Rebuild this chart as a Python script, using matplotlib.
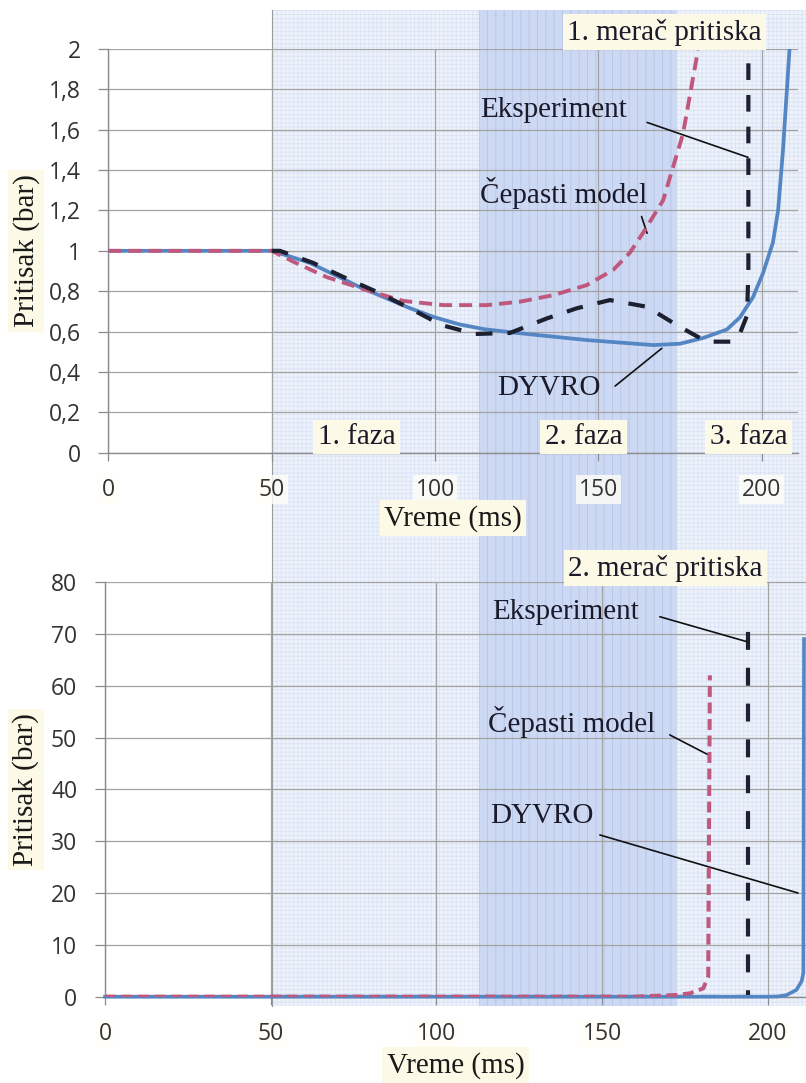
import matplotlib
matplotlib.use("Agg")
import matplotlib.pyplot as plt
import matplotlib.transforms as mtransforms
from matplotlib.patches import Rectangle
from matplotlib.lines import Line2D

# --- 1. merac pritiska (gornji grafik), vreme u ms, pritisak u bar ---
t_dyvro_1 = [0, 50, 55, 61.7, 77, 92.3, 100, 107.6, 115, 122.9, 130, 146.4, 166.8, 175, 182,
             189.3, 193.3, 197.3, 200.4, 203.4, 205, 206.5, 207.5, 208.5]
p_dyvro_1 = [1.0, 1.0, 0.975, 0.94, 0.82, 0.716, 0.67, 0.635, 0.612, 0.597, 0.585, 0.558,
             0.533, 0.54, 0.568, 0.61, 0.67, 0.77, 0.89, 1.04, 1.2, 1.5, 1.75, 2.0]

t_cep_1 = [0, 50, 56.6, 66.8, 80, 90.2, 102.4, 115.8, 126, 136.1, 146.4, 154.5, 159.6,
           163.7, 169.8, 175.9, 180.1, 180.6]
p_cep_1 = [1.0, 1.0, 0.946, 0.87, 0.80, 0.752, 0.731, 0.731, 0.748, 0.78, 0.83, 0.905, 0.99,
           1.09, 1.25, 1.58, 1.96, 2.02]

t_eks_1 = [50, 52.5, 62.7, 72.9, 83.1, 92.3, 102, 112.2, 122.9, 134.2, 143.3, 153.5, 164.8,
           174, 183.1, 191.2, 193.3, 195.5, 195.9, 195.9]
p_eks_1 = [1.0, 1.0, 0.94, 0.863, 0.79, 0.715, 0.632, 0.588, 0.593, 0.665, 0.715, 0.756, 0.723,
           0.632, 0.55, 0.55, 0.59, 0.68, 0.9, 2.1]

# --- 2. merac pritiska (donji grafik) ---
t_dyvro_2 = [0, 200, 203, 205.6, 208.6, 210.2, 210.7, 210.9]
p_dyvro_2 = [0, 0, 0.05, 0.3, 1.3, 3.0, 4.6, 69]

t_cep_2 = [0, 160, 165, 172.4, 176.5, 180.5, 182, 182.5]
p_cep_2 = [0, 0, 0.15, 0.33, 0.65, 1.6, 3.9, 62]

t_eks_2 = [50, 194, 194]
p_eks_2 = [0, 0, 73]

# faze procesa (ms)
faza_2_od, faza_2_do = 113.4, 174.2
faza_1_od = 50

x_ticks = [0, 50, 100, 150, 200]
y_ticks_1 = [0, 0.2, 0.4, 0.6, 0.8, 1.0, 1.2, 1.4, 1.6, 1.8, 2.0]
y_labels_1 = ["0", "0,2", "0,4", "0,6", "0,8", "1", "1,2", "1,4", "1,6", "1,8", "2"]
y_ticks_2 = [0, 10, 20, 30, 40, 50, 60, 70, 80]

plt.rcParams["hatch.linewidth"] = 0.6

c_dyvro = "#5486c4"
c_cep = "#c0587e"
c_eks = "#1c2030"
krem = "#fcfae6"
serif = ["Liberation Serif", "DejaVu Serif"]
sans = ["Open Sans", "DejaVu Sans"]

fig = plt.figure(figsize=(8.06, 10.83), dpi=100)
ax1 = fig.add_axes([0.1345, 0.582, 0.8556, 0.3728])
ax2 = fig.add_axes([0.1303, 0.0797, 0.8697, 0.3829])

# pozadina faza preko oba grafika
trans = mtransforms.blended_transform_factory(ax1.transData, fig.transFigure)
svetla = Rectangle((faza_1_od, 0.071), 175, 0.92, transform=trans, facecolor="#edf2fb",
                   edgecolor="#dbe3f4", hatch="++++", lw=0, zorder=-3)
tamna = Rectangle((faza_2_od, 0.071), faza_2_do - faza_2_od, 0.92, transform=trans,
                  facecolor="#cdd9f3", edgecolor="#b4c5ea", hatch="||", lw=0, zorder=-2)
ivica = Line2D([faza_1_od, faza_1_od], [0.071, 0.991], transform=trans, color="#9a9a9a",
               lw=0.8, zorder=-1)
fig.add_artist(svetla)
fig.add_artist(tamna)
fig.add_artist(ivica)


def osnova(ax, xmax, yticks, ymax):
    ax.set_facecolor("none")
    ax.set_xlim(0, xmax)
    ax.set_ylim(0, ymax)
    ax.set_xticks(x_ticks)
    ax.set_yticks(yticks)
    for s in ["top", "right"]:
        ax.spines[s].set_visible(False)
    for s in ["left", "bottom"]:
        ax.spines[s].set_color("#8c8c8c")
        ax.spines[s].set_linewidth(1.0)
    ax.grid(True, color="#a3a3a3", lw=0.9)
    ax.set_axisbelow(True)
    ax.tick_params(axis="y", length=7, width=0.9, color="#8c8c8c", pad=13,
                   labelsize=16.5, labelcolor="#333333")
    ax.tick_params(axis="x", length=6, width=0.9, color="#8c8c8c", pad=12,
                   labelsize=16.5, labelcolor="#333333")
    for lbl in ax.get_xticklabels() + ax.get_yticklabels():
        lbl.set_family(sans)
    for lbl in ax.get_xticklabels():
        lbl.set_bbox(dict(facecolor="#fffef8", edgecolor="none", pad=2, alpha=0.8))
    ax.set_xlabel("Vreme (ms)", family=serif, fontsize=21, color="#1a1a1a", va="center",
                  bbox=dict(boxstyle="square,pad=0.15", facecolor=krem, edgecolor="none"))
    ax.set_ylabel("Pritisak (bar)", family=serif, fontsize=21, color="#1a1a1a", va="center",
                  bbox=dict(boxstyle="square,pad=0.15", facecolor=krem, edgecolor="none"))


osnova(ax1, 211.1, y_ticks_1, 2.0)
ax1.set_yticklabels(y_labels_1, family=sans)
ax1.xaxis.set_label_coords(0.5, -0.162)
ax1.yaxis.set_label_coords(-0.119, 0.5)

osnova(ax2, 211.5, y_ticks_2, 80)
ax2.xaxis.set_label_coords(0.5, -0.165)
ax2.yaxis.set_label_coords(-0.113, 0.5)

# krive - gornji grafik
ax1.plot(t_dyvro_1, p_dyvro_1, color=c_dyvro, lw=2.7, zorder=3)
ax1.plot(t_cep_1, p_cep_1, color=c_cep, lw=2.8, dashes=(3.35, 1.8), zorder=4)
ax1.plot(t_eks_1, p_eks_1, color=c_eks, lw=3.0, dashes=(4.0, 3.6), zorder=5)

# krive - donji grafik
ax2.plot(t_eks_2, p_eks_2, color=c_eks, lw=3.0, dashes=(4.3, 4.3), zorder=3)
ax2.plot(t_dyvro_2, p_dyvro_2, color=c_dyvro, lw=2.6, zorder=4, clip_on=False)
ax2.plot(t_cep_2, p_cep_2, color=c_cep, lw=2.9, dashes=(2.7, 1.4), zorder=5)

tekst = dict(family=serif, fontsize=21, color="#1a1a2a", va="center", ha="left", zorder=6)
kutija = dict(boxstyle="square,pad=0.15", facecolor=krem, edgecolor="none")
linija = dict(arrowstyle="-", color="#111111", lw=1.2, shrinkA=0, shrinkB=0)

# oznake - gornji grafik
ax1.text(140.4, 2.083, "1. merač pritiska", bbox=kutija, **tekst)
ax1.text(113.9, 1.697, "Eksperiment", **tekst)
ax1.annotate("", xy=(195.8, 1.463), xytext=(164.9, 1.636), arrowprops=linija)
ax1.text(113.9, 1.286, "Čepasti model", **tekst)
ax1.annotate("", xy=(164.9, 1.087), xytext=(163.2, 1.17), arrowprops=linija)
ax1.text(118.9, 0.32, "DYVRO", **tekst)
ax1.annotate("", xy=(169.4, 0.517), xytext=(155.1, 0.33), arrowprops=linija)
ax1.text(64.1, 0.078, "1. faza", bbox=kutija, **tekst)
ax1.text(133.6, 0.078, "2. faza", bbox=kutija, **tekst)
ax1.text(184.1, 0.078, "3. faza", bbox=kutija, **tekst)

# oznake - donji grafik
ax2.text(139.7, 82.7, "2. merač pritiska", bbox=kutija, **tekst)
ax2.text(116.7, 74.3, "Eksperiment", **tekst)
ax2.annotate("", xy=(193.6, 68.5), xytext=(167.4, 73.3), arrowprops=linija)
ax2.text(115.5, 53.0, "Čepasti model", **tekst)
ax2.annotate("", xy=(181.9, 46.7), xytext=(170.4, 50.5), arrowprops=linija)
ax2.text(116.1, 34.8, "DYVRO", **tekst)
ax2.annotate("", xy=(209.1, 20.0), xytext=(149.3, 31.2), arrowprops=linija)

fig.savefig("out.png", dpi=100)
